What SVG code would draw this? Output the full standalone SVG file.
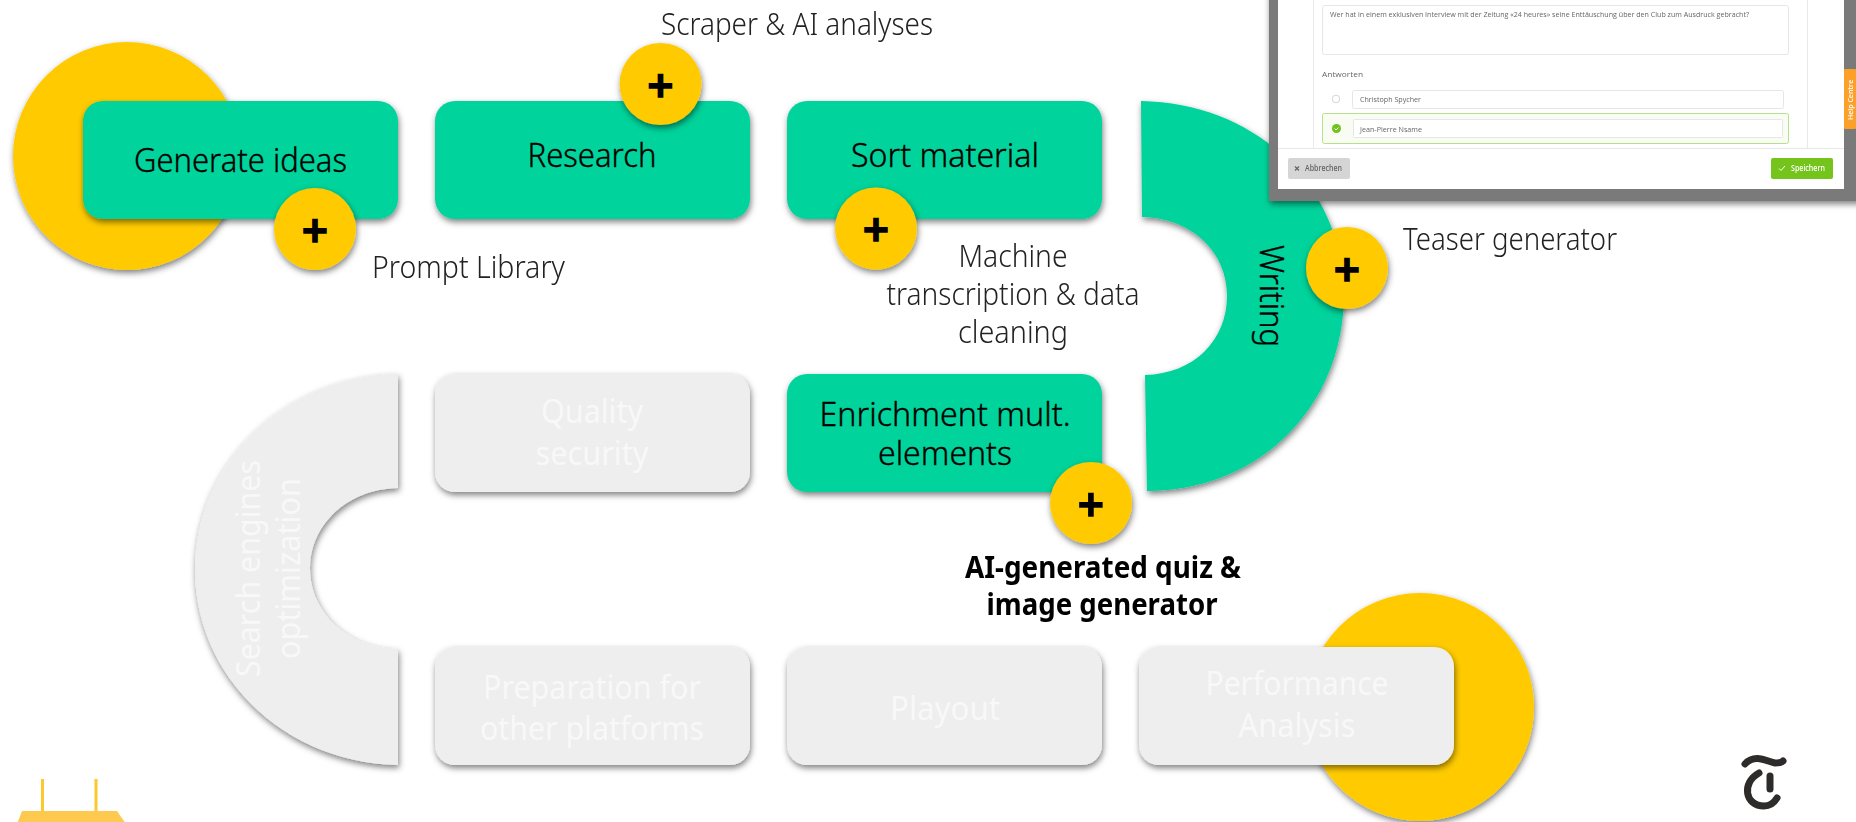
<svg xmlns="http://www.w3.org/2000/svg" width="1856" height="822" viewBox="0 0 1856 822">
<style>
text{font-family:"Noto Sans","Open Sans",sans-serif;text-anchor:middle}
.g{fill:#00d39b}.e{fill:#eeeeee}.y{fill:#ffcb00}
.l{font-size:31px;font-weight:300;fill:#222}
.b{font-size:33px;font-weight:300;fill:#000;stroke:#000;stroke-width:.35px}
.w{font-size:33px;font-weight:400;fill:#f8f8f8}
.q{font-size:30px;font-weight:700;fill:#000}
.p{font-family:"DejaVu Sans",sans-serif;font-size:35px;font-weight:700;fill:#000;stroke:#000;stroke-width:1.6px}
.s{font-family:"Open Sans",sans-serif;font-size:8px;fill:#666;text-anchor:start}
.f{fill:#fff;stroke:#e6e6e6}
</style>
<defs>
<filter id="sh" x="-20%" y="-20%" width="140%" height="140%"><feDropShadow dx="1" dy="3" stdDeviation="3" flood-color="#000" flood-opacity=".5"/></filter>
<filter id="soft" x="0" y="0" width="100%" height="100%"><feGaussianBlur stdDeviation=".35"/></filter>
</defs>
<g id="connectors"/>
<g id="circle-start"><circle class="y" cx="127" cy="156" r="114" filter="url(#sh)"/></g>
<g id="circle-end"><circle class="y" cx="1420" cy="707" r="114" filter="url(#sh)"/></g>
<g id="node-generate"><rect class="g" x="83" y="101" width="315" height="118" rx="20" filter="url(#sh)"/><text class="b" x="240.500" y="172" textLength="213" lengthAdjust="spacingAndGlyphs">Generate ideas</text></g>
<g id="node-research"><rect class="g" x="435" y="101" width="315" height="118" rx="20" filter="url(#sh)"/><text class="b" x="592" y="167" textLength="129" lengthAdjust="spacingAndGlyphs">Research</text></g>
<g id="node-sort"><rect class="g" x="787" y="101" width="315" height="118" rx="20" filter="url(#sh)"/><text class="b" x="945" y="167" textLength="188" lengthAdjust="spacingAndGlyphs">Sort material</text></g>
<g id="node-writing"><path class="g" d="M1141 101C1260 103 1344 190 1344 296C1343 405 1262 490 1147 491L1145 375C1194 374 1227 340 1227 296C1227 252 1192 218 1142 217Z" filter="url(#sh)"/><text class="b" transform="translate(1260 296) rotate(90)" x="0" y="0" textLength="102" lengthAdjust="spacingAndGlyphs">Writing</text></g>
<g id="node-enrichment"><rect class="g" x="787" y="374" width="315" height="118" rx="20" filter="url(#sh)"/><text class="b" x="945" y="426" textLength="251" lengthAdjust="spacingAndGlyphs">Enrichment mult.</text><text class="b" x="945" y="465" textLength="134" lengthAdjust="spacingAndGlyphs">elements</text></g>
<g id="node-quality"><rect class="e" x="435" y="374" width="315" height="118" rx="20" filter="url(#sh)"/><text class="w" x="592" y="423" textLength="102" lengthAdjust="spacingAndGlyphs">Quality</text><text class="w" x="592" y="465" textLength="113" lengthAdjust="spacingAndGlyphs">security</text></g>
<g id="node-seo"><path class="e" d="M398 374C285 376 195 462 195 569.500C195 677 285 763 398 765L398 649C347 648 310 612 310 568.500C310 525 347 489 398 488Z" filter="url(#sh)"/><text class="w" transform="translate(260 568.500) rotate(-90)" x="0" y="0" textLength="217" lengthAdjust="spacingAndGlyphs">Search engines</text><text class="w" transform="translate(300 568.500) rotate(-90)" x="0" y="0" textLength="181" lengthAdjust="spacingAndGlyphs">optimization</text></g>
<g id="node-preparation"><rect class="e" x="435" y="647" width="315" height="118" rx="20" filter="url(#sh)"/><text class="w" x="592" y="699" textLength="218" lengthAdjust="spacingAndGlyphs">Preparation for</text><text class="w" x="592" y="740" textLength="224" lengthAdjust="spacingAndGlyphs">other platforms</text></g>
<g id="node-playout"><rect class="e" x="787" y="647" width="315" height="118" rx="20" filter="url(#sh)"/><text class="w" x="945" y="720" textLength="110" lengthAdjust="spacingAndGlyphs">Playout</text></g>
<g id="node-performance"><rect class="e" x="1139" y="647" width="315" height="118" rx="20" filter="url(#sh)"/><text class="w" x="1297" y="695" textLength="183" lengthAdjust="spacingAndGlyphs">Performance</text><text class="w" x="1297" y="737" textLength="117" lengthAdjust="spacingAndGlyphs">Analysis</text></g>
<g id="screenshot">
<rect x="1269" y="-10" width="600" height="211" fill="#7a7a7a" filter="url(#sh)"/>
<g filter="url(#soft)">
<rect x="1278" y="-10" width="566" height="199" fill="#fff"/>
<path d="M1278 148.500H1844M1313.500 -10V148M1807.500 -10V148" stroke="#e8e8e8" fill="none"/>
<rect class="f" x="1322.500" y="5.500" width="466" height="49" rx="2"/>
<text class="s" x="1330" y="17" textLength="419" lengthAdjust="spacingAndGlyphs">Wer hat in einem exklusiven Interview mit der Zeitung «24 heures» seine Enttäuschung über den Club zum Ausdruck gebracht?</text>
<text class="s" x="1322" y="77" textLength="41" lengthAdjust="spacingAndGlyphs">Antworten</text>
<circle cx="1336" cy="99" r="3.800" fill="#fff" stroke="#d5d5d5"/>
<rect class="f" x="1352.500" y="90.500" width="431" height="18" rx="2"/>
<text class="s" x="1360" y="102" textLength="61" lengthAdjust="spacingAndGlyphs">Christoph Spycher</text>
<rect x="1322.500" y="113.500" width="466" height="30" rx="2" fill="#f8fcf3" stroke="#b6e08c"/>
<circle cx="1336.500" cy="128.500" r="4.500" fill="#6fc21e"/>
<path d="M1334.500 128.500l1.500 1.500 2.500-2.500" fill="none" stroke="#fff"/>
<rect class="f" x="1353.500" y="119.500" width="429" height="18" rx="1"/>
<text class="s" x="1360" y="132" textLength="62" lengthAdjust="spacingAndGlyphs">Jean-Pierre Nsame</text>
<rect x="1288" y="158" width="62" height="21" rx="2" fill="#d5d5d5"/>
<path d="M1295 166.500l4 4m0-4l-4 4" stroke="#666" stroke-width="1.200" fill="none"/>
<text class="s" x="1305" y="171" font-weight="600" textLength="37" lengthAdjust="spacingAndGlyphs">Abbrechen</text>
<rect x="1771" y="158" width="62" height="21" rx="2" fill="#74c41a"/>
<path d="M1779 168.500l2 2 4-4.500" stroke="#fff" fill="none"/>
<text class="s" x="1791" y="171" font-weight="600" style="fill:#fff" textLength="34" lengthAdjust="spacingAndGlyphs">Speichern</text>
<rect x="1844" y="69" width="12" height="60" rx="1" fill="#fca02c"/>
<text class="s" transform="translate(1853 120) rotate(-90)" x="0" y="0" font-weight="600" style="fill:#fff;font-size:7px">Help Centre</text>
</g>
</g>
<g id="plus-prompt"><circle class="y" cx="315" cy="229" r="41" filter="url(#sh)"/><text class="p" x="315" y="241.500">+</text></g>
<g id="plus-scraper"><circle class="y" cx="660.500" cy="84" r="41" filter="url(#sh)"/><text class="p" x="660.500" y="96.500">+</text></g>
<g id="plus-transcription"><circle class="y" cx="876" cy="228.500" r="41" filter="url(#sh)"/><text class="p" x="876" y="241">+</text></g>
<g id="plus-teaser"><circle class="y" cx="1347" cy="268" r="41" filter="url(#sh)"/><text class="p" x="1347" y="280.500">+</text></g>
<g id="plus-quiz"><circle class="y" cx="1091" cy="503" r="41" filter="url(#sh)"/><text class="p" x="1091" y="515.500">+</text></g>
<g id="labels">
<text class="l" x="797" y="35" textLength="272" lengthAdjust="spacingAndGlyphs">Scraper &amp; AI analyses</text>
<text class="l" x="468.500" y="278" textLength="193" lengthAdjust="spacingAndGlyphs">Prompt Library</text>
<text class="l" x="1013" y="267" textLength="109" lengthAdjust="spacingAndGlyphs">Machine</text>
<text class="l" x="1013" y="305" textLength="253" lengthAdjust="spacingAndGlyphs">transcription &amp; data</text>
<text class="l" x="1013" y="343" textLength="110" lengthAdjust="spacingAndGlyphs">cleaning</text>
<text class="l" x="1510" y="250" textLength="214" lengthAdjust="spacingAndGlyphs">Teaser generator</text>
<text class="q" x="1103" y="578" textLength="276" lengthAdjust="spacingAndGlyphs">AI-generated quiz &amp;</text>
<text class="q" x="1102" y="615" textLength="231" lengthAdjust="spacingAndGlyphs">image generator</text>
</g>
<g id="device"><path d="M42.500 779V811M96 779V811" stroke="#fcc82e" stroke-width="3" fill="none"/><path d="M22 811H117L126 824H17Z" fill="#fdc94f"/></g>
<g id="logo" fill="none" stroke="#2e2c2a" stroke-width="7" stroke-linecap="round"><path d="M1745 764C1755 753 1768 762 1775 763C1779 763 1782 762 1783 761"/><path d="M1759 773C1741 783 1745 806 1764 806C1770 806 1774 803 1777 798"/><path d="M1770 776V789"/></g>
</svg>
